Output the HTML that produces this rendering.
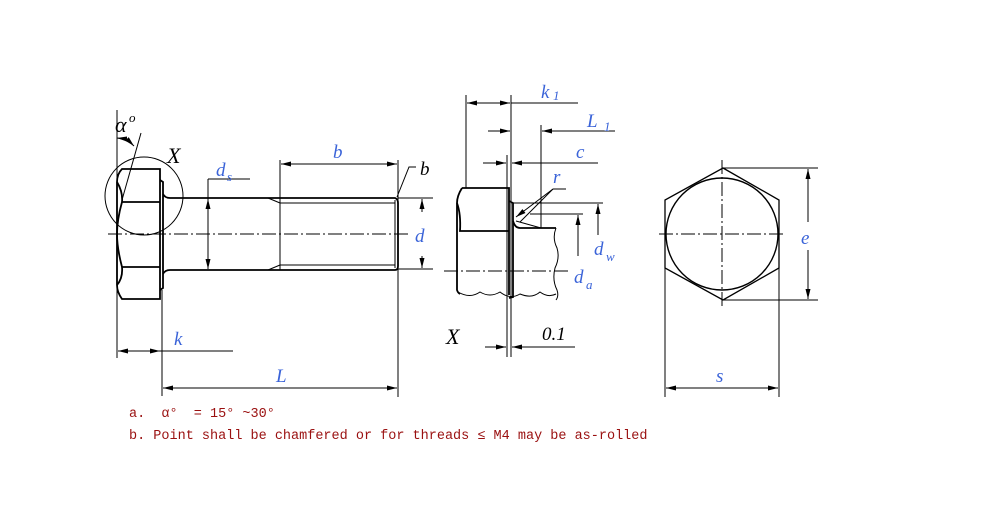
<!DOCTYPE html>
<html><head><meta charset="utf-8"><style>
html,body{margin:0;padding:0;background:#fff;}
svg{display:block;}
.l{stroke:#000;fill:none;stroke-width:1}
.t{stroke:#000;fill:none;stroke-width:1.8}
.c{stroke:#000;fill:none;stroke-width:1;stroke-dasharray:14 3 2 3}
.bl{fill:#3a63d8;font-family:"Liberation Serif",serif;font-style:italic;font-size:19px}
.bk{fill:#000;font-family:"Liberation Serif",serif;font-style:italic;font-size:19px}
.r{fill:#9a1010;font-family:"Liberation Mono","Noto Sans CJK SC",monospace;font-size:13.5px}
</style></head><body>
<svg width="1000" height="508" viewBox="0 0 1000 508" xmlns="http://www.w3.org/2000/svg">
<defs>
<marker id="a" viewBox="0 0 10 6" refX="10" refY="3" markerWidth="10" markerHeight="6" orient="auto-start-reverse" markerUnits="userSpaceOnUse"><path d="M0,0.5 L10,3 L0,5.5z" fill="#000"/></marker>
</defs>
<!-- LEFT VIEW -->
<path class="t" d="M122,169 L160,169 L160,299 L122,299 Q117,292 117,285 L117,182 Q117,174 122,169 Z"/>
<path class="t" d="M117,182 Q123,192 122,202 Q117,220 117,234 Q117,248 122,267 Q123,278 117,285"/>
<line class="t" x1="122" y1="202" x2="160" y2="202"/>
<line class="t" x1="122" y1="267" x2="160" y2="267"/>
<path class="t" d="M160,180 L163,182 L163,288 L160,290"/>
<path class="t" d="M163,194 Q165,198 170,198 L395,198 Q398,199 398,203 L398,266 Q398,270 395,270 L170,270 Q165,270 163,274"/>
<line class="l" x1="280" y1="198" x2="280" y2="270"/>
<line class="l" x1="280" y1="203" x2="395" y2="203"/>
<line class="l" x1="280" y1="265" x2="395" y2="265"/>
<line class="l" x1="268" y1="198" x2="280" y2="203"/>
<line class="l" x1="268" y1="270" x2="280" y2="265"/>
<line class="l" x1="395" y1="200" x2="395" y2="268"/>
<line class="c" x1="108" y1="234" x2="408" y2="234"/>
<circle class="l" cx="144" cy="196" r="39"/>
<text class="bk" x="167" y="163" style="font-size:22px">X</text>
<!-- alpha -->
<line class="l" x1="117" y1="110" x2="117" y2="358"/>
<line class="l" x1="122" y1="200" x2="141" y2="133"/>
<path class="l" d="M117,138 Q127,139 134,146" marker-start="url(#a)" marker-end="url(#a)"/>
<text class="bk" x="115" y="132" style="font-size:22px">α</text>
<text class="bk" x="129" y="122" style="font-size:13px">o</text>
<!-- ds -->
<line class="l" x1="208" y1="199" x2="208" y2="269" marker-start="url(#a)" marker-end="url(#a)"/>
<line class="l" x1="208" y1="179" x2="250" y2="179"/>
<line class="l" x1="208" y1="179" x2="208" y2="199"/>
<text class="bl" x="216" y="176">d</text><text class="bl" x="227" y="181" style="font-size:13px">s</text>
<!-- b -->
<line class="l" x1="280" y1="160" x2="280" y2="198"/>
<line class="l" x1="398" y1="160" x2="398" y2="397"/>
<line class="l" x1="281" y1="164" x2="397" y2="164" marker-start="url(#a)" marker-end="url(#a)"/>
<text class="bl" x="333" y="158">b</text>
<path class="l" d="M397,197 L409,167 L416,167"/>
<text class="bk" x="420" y="175">b</text>
<!-- d -->
<line class="l" x1="398" y1="198" x2="433" y2="198"/>
<line class="l" x1="398" y1="269" x2="433" y2="269"/>
<line class="l" x1="422" y1="212" x2="422" y2="199" marker-end="url(#a)"/>
<line class="l" x1="422" y1="256" x2="422" y2="268" marker-end="url(#a)"/>
<text class="bl" x="415" y="242">d</text>
<!-- k -->
<line class="l" x1="118" y1="351" x2="160" y2="351" marker-start="url(#a)" marker-end="url(#a)"/>
<line class="l" x1="160" y1="351" x2="233" y2="351"/>
<text class="bl" x="174" y="345">k</text>
<!-- L -->
<line class="l" x1="162" y1="290" x2="162" y2="396"/>
<line class="l" x1="163" y1="388" x2="397" y2="388" marker-start="url(#a)" marker-end="url(#a)"/>
<text class="bl" x="276" y="382">L</text>

<!-- MIDDLE VIEW -->
<path class="t" d="M462,188 L509,188 L509,295"/>
<path class="t" d="M462,188 Q457,196 457,203 L457,290 Q458,293 460,294"/>
<path class="t" d="M457,203 Q461,214 460,231 L509,231"/>
<path class="l" d="M458,292 Q470,299 480,292 Q490,298 500,292 Q510,300 520,294 Q532,299 540,292 Q548,298 556,294"/>
<path class="t" d="M509,201 L513,203 L513,297 L509,298"/>
<path class="t" d="M513,221 Q515,228 520,228 L556,228"/>
<path class="l" d="M556,228 Q552,238 557,248 Q560,258 555,268 Q552,280 557,290 Q559,296 556,300"/>
<line class="c" x1="444" y1="271" x2="570" y2="271"/>
<line class="l" x1="516" y1="221" x2="541" y2="228"/>
<line class="l" x1="507" y1="155" x2="507" y2="357"/>
<line class="l" x1="511" y1="95" x2="511" y2="357"/>
<line class="l" x1="466" y1="95" x2="466" y2="188"/>
<line class="l" x1="541" y1="125" x2="541" y2="228"/>
<!-- k1 -->
<line class="l" x1="467" y1="103" x2="510" y2="103" marker-start="url(#a)" marker-end="url(#a)"/>
<line class="l" x1="511" y1="103" x2="578" y2="103"/>
<text class="bl" x="541" y="98">k</text><text class="bl" x="553" y="100" style="font-size:13px">1</text>
<!-- L1 -->
<line class="l" x1="488" y1="131" x2="510" y2="131" marker-end="url(#a)"/>
<line class="l" x1="615" y1="131" x2="542" y2="131" marker-end="url(#a)"/>
<text class="bl" x="587" y="127">L</text><text class="bl" x="604" y="131" style="font-size:13px">1</text>
<!-- c -->
<line class="l" x1="483" y1="163" x2="506" y2="163" marker-end="url(#a)"/>
<line class="l" x1="598" y1="163" x2="512" y2="163" marker-end="url(#a)"/>
<text class="bl" x="576" y="158">c</text>
<!-- r -->
<line class="l" x1="566" y1="189" x2="553" y2="189"/>
<line class="l" x1="553" y1="189" x2="516" y2="217" marker-end="url(#a)"/>
<line class="l" x1="553" y1="189" x2="520" y2="222"/>
<text class="bl" x="553" y="183">r</text>
<!-- dw da -->
<line class="l" x1="513" y1="203" x2="603" y2="203"/>
<line class="l" x1="530" y1="214" x2="583" y2="214"/>
<line class="l" x1="598" y1="235" x2="598" y2="204" marker-end="url(#a)"/>
<line class="l" x1="578" y1="256" x2="578" y2="215" marker-end="url(#a)"/>
<text class="bl" x="594" y="255">d</text><text class="bl" x="606" y="261" style="font-size:13px">w</text>
<text class="bl" x="574" y="283">d</text><text class="bl" x="586" y="289" style="font-size:13px">a</text>
<!-- 0.1 -->
<line class="l" x1="485" y1="347" x2="506" y2="347" marker-end="url(#a)"/>
<line class="l" x1="575" y1="347" x2="512" y2="347" marker-end="url(#a)"/>
<text class="bk" x="542" y="340">0.1</text>
<text class="bk" x="446" y="344" style="font-size:22px">X</text>

<!-- RIGHT VIEW -->
<polygon class="l" points="723,168 779,200 779,268 723,300 665,268 665,200" style="stroke-width:1.3"/>
<circle class="t" cx="722" cy="234" r="56" style="stroke-width:1.4"/>
<line class="c" x1="659" y1="234" x2="786" y2="234"/>
<line class="c" x1="722" y1="160" x2="722" y2="308"/>
<line class="l" x1="723" y1="168" x2="818" y2="168"/>
<line class="l" x1="723" y1="300" x2="818" y2="300"/>
<line class="l" x1="808" y1="169" x2="808" y2="299" marker-start="url(#a)" marker-end="url(#a)"/>
<rect x="798" y="222" width="20" height="28" fill="#fff"/>
<text class="bl" x="801" y="244">e</text>
<line class="l" x1="665" y1="268" x2="665" y2="397"/>
<line class="l" x1="779" y1="268" x2="779" y2="397"/>
<line class="l" x1="666" y1="388" x2="778" y2="388" marker-start="url(#a)" marker-end="url(#a)"/>
<text class="bl" x="716" y="382">s</text>

<!-- NOTES -->
<text class="r" x="129" y="417" xml:space="preserve">a.  α°  = 15° ~30°</text>
<text class="r" x="129" y="439">b. Point shall be chamfered or for threads ≤ M4 may be as-rolled</text>
</svg>
</body></html>
